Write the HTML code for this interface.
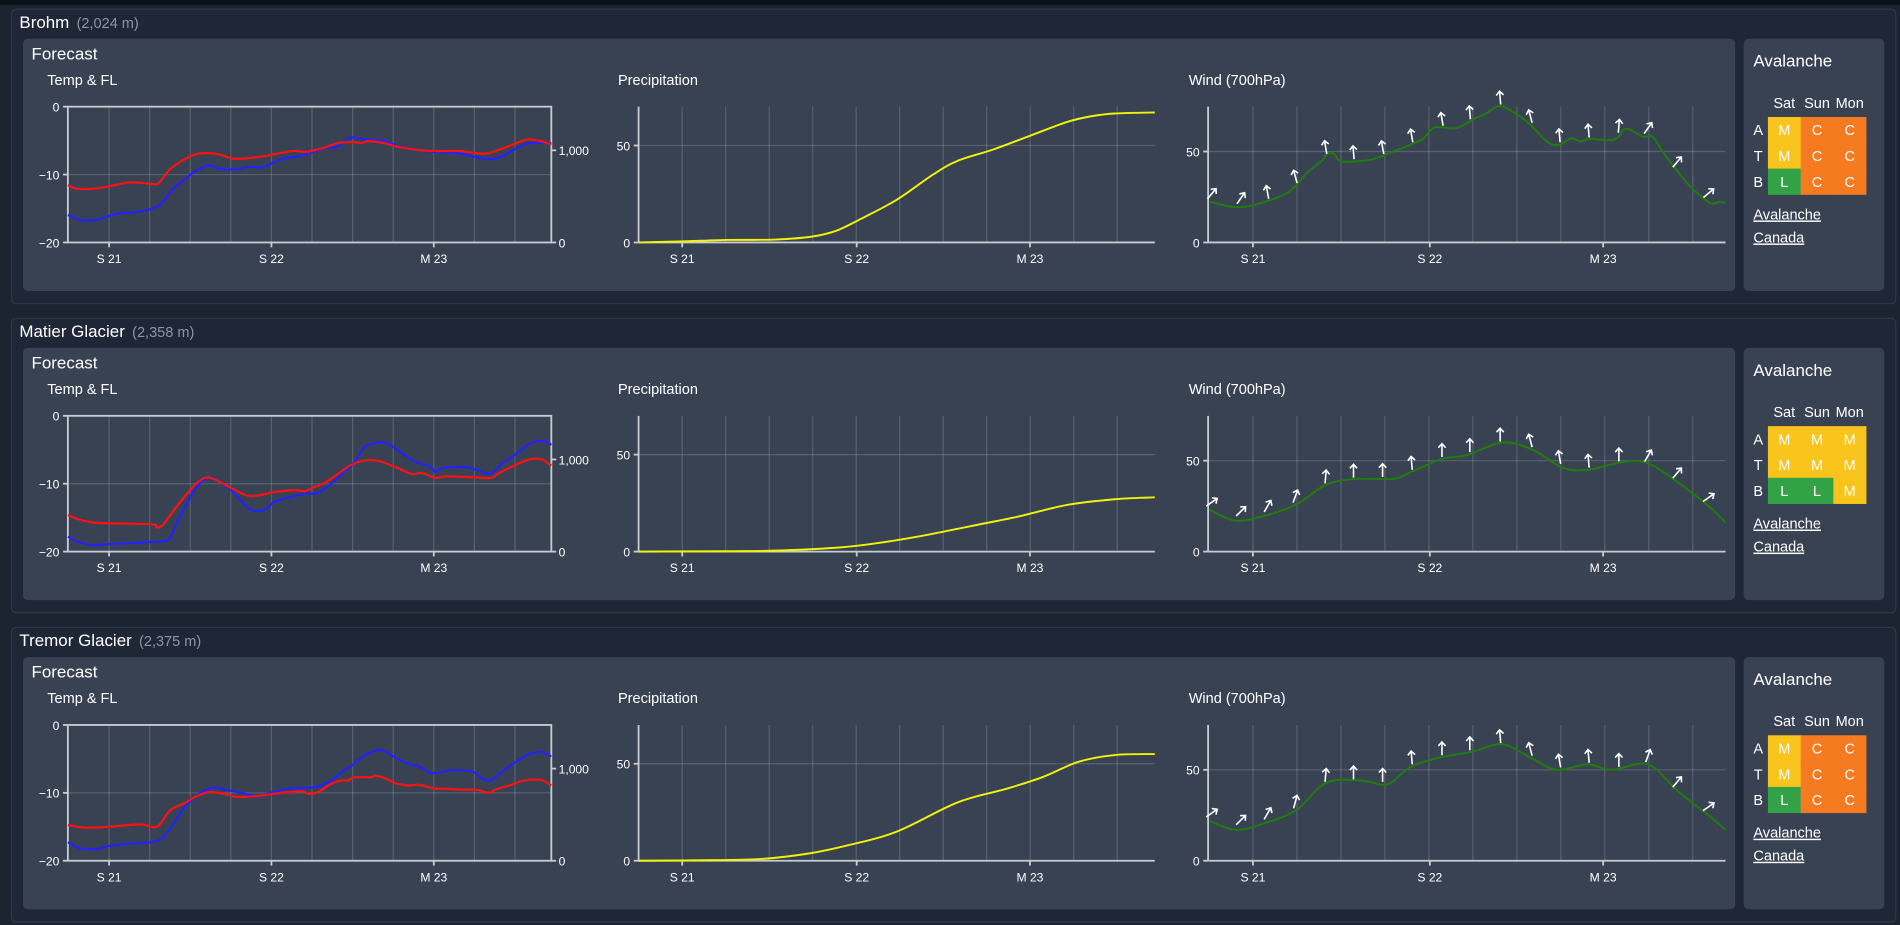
<!DOCTYPE html>
<html><head><meta charset="utf-8"><style>
html,body{margin:0;padding:0;background:#1c2331;overflow:hidden}
svg{display:block}
text{font-family:"Liberation Sans Narrow","Liberation Sans",sans-serif;fill:#fff}
</style></head><body>
<svg id="s" width="1900" height="925" viewBox="0 0 1568 763" preserveAspectRatio="none" xmlns="http://www.w3.org/2000/svg"></svg>
<script>
const svg=document.getElementById('s');let h='';
h+='<rect x="0" y="0" width="1568" height="763" fill="#1c2331"/><rect x="0" y="0" width="1568" height="4" fill="#0c1018"/>';
function sm(pts){let d='M'+pts[0][0].toFixed(1)+','+pts[0][1].toFixed(1);for(let i=0;i<pts.length-1;i++){const p0=pts[i-1]||pts[i],p1=pts[i],p2=pts[i+1],p3=pts[i+2]||p2;const c1=[p1[0]+(p2[0]-p0[0])/6,p1[1]+(p2[1]-p0[1])/6],c2=[p2[0]-(p3[0]-p1[0])/6,p2[1]-(p3[1]-p1[1])/6];d+=' C'+c1[0].toFixed(1)+','+c1[1].toFixed(1)+' '+c2[0].toFixed(1)+','+c2[1].toFixed(1)+' '+p2[0].toFixed(1)+','+p2[1].toFixed(1);}return d;}
function interp(pts,x){for(let i=0;i<pts.length-1;i++){if(x>=pts[i][0]&&x<=pts[i+1][0]){const t=(x-pts[i][0])/(pts[i+1][0]-pts[i][0]);return pts[i][1]+t*(pts[i+1][1]-pts[i][1]);}}return pts[pts.length-1][1];}
const names=[["Brohm","(2,024 m)"],["Matier Glacier","(2,358 m)"],["Tremor Glacier","(2,375 m)"]];
const p1=(a)=>a.map(p=>[(p[0]-178)/1257,-20*(p[1]-318)/410]);
const p23=(a)=>a.map(p=>[(p[0]-25)/1440,-20*(p[1]-17)/411]);
const temps=[
[p1([[178,555],[200,565],[250,565],[300,555],[335,547],[370,548],[400,552],[415,548],[445,505],[480,478],[510,462],[540,458],[570,462],[610,475],[650,473],[700,465],[760,452],[800,454],[850,440],[880,428],[920,425],[940,428],[960,422],[1000,428],[1040,440],[1100,450],[1150,452],[1200,452],[1260,460],[1300,448],[1340,430],[1370,418],[1400,420],[1435,432]]),
 p1([[178,645],[210,660],[250,660],[280,650],[310,640],[350,637],[390,628],[420,612],[450,568],[480,540],[510,512],[545,495],[570,505],[610,507],[650,500],[680,502],[710,488],[740,475],[780,467],[810,457],[840,445],[880,438],[910,412],[930,414],[960,418],[1000,422],[1040,438],[1080,447],[1130,455],[1190,458],[1230,468],[1260,475],[1290,475],[1320,460],[1350,440],[1380,428],[1435,428]])],
[p23([[25,318],[100,340],[270,345],[290,355],[310,345],[350,290],[410,220],[450,205],[520,240],[570,260],[640,248],[700,242],[730,245],[760,232],[790,220],[840,185],[870,165],[910,152],[950,153],[1000,172],[1050,193],[1080,190],[1120,205],[1150,200],[1230,203],[1285,205],[1310,190],[1370,160],[1410,147],[1440,150],[1465,168]]),
 p23([[25,383],[60,400],[100,408],[150,405],[220,402],[280,398],[310,396],[330,385],[360,320],[410,230],[450,205],[490,225],[520,250],[560,295],[590,305],[615,300],[640,278],[700,260],[740,252],[765,252],[800,230],[840,195],[880,155],[910,110],[950,98],[975,100],[1000,115],[1040,145],[1070,160],[1100,168],[1110,175],[1120,188],[1140,175],[1210,172],[1240,180],[1285,192],[1320,160],[1350,140],[1400,102],[1430,93],[1450,95],[1465,105]])],
[p23([[25,320],[80,328],[150,325],[240,318],[290,325],[330,275],[370,255],[410,232],[450,220],[500,228],[530,235],[590,232],[640,225],[720,218],[740,225],[770,220],[810,195],[840,185],[860,185],[880,175],[930,175],[940,170],[970,178],[1000,193],[1040,200],[1070,198],[1120,210],[1150,210],[1200,213],[1240,213],[1280,222],[1300,212],[1340,200],[1380,186],[1410,182],[1440,185],[1465,200]]),
 p23([[25,372],[60,390],[110,392],[150,383],[200,377],[240,375],[290,368],[310,355],[340,315],[370,270],[410,230],[450,208],[490,212],[540,222],[590,232],[630,222],[680,210],[760,205],[810,185],[840,160],[870,140],[900,115],[940,95],[965,95],[1000,115],[1040,135],[1070,142],[1100,160],[1130,162],[1160,155],[1210,155],[1240,163],[1260,180],[1285,185],[1310,165],[1350,135],[1390,110],[1430,98],[1465,112]])]];
const precs=[
[[527,0],[560,0.5],[600,1.3],[640,1.5],[670,3],[690,6],[710,12],[740,22],[770,35],[790,42],[820,48],[850,55],[880,62],[900,65],[920,66.5],[953,67]],
[[527,0],[600,0.2],[640,0.5],[690,2],[720,4],[760,8],[800,13],[840,18],[880,24],[920,27],[953,28]],
[[527,0],[590,0.3],[630,1],[670,4],[700,8],[740,15],[790,30],[830,37],[860,43],[890,51],[920,54.5],[953,55]]];
const w1=[[125,515],[170,530],[200,530],[240,515],[290,485],[330,425],[360,390],[370,370],[385,370],[400,393],[450,390],[480,380],[510,362],[540,345],[570,325],[595,290],[640,292],[680,262],[700,250],[730,225],[760,245],[790,275],[820,320],[840,342],[860,340],[880,323],[900,332],[920,325],[970,327],[990,296],[1005,298],[1030,318],[1050,318],[1070,360],[1100,418],[1130,470],[1170,518],[1190,515],[1203,518]].map(p=>[(p[0]/2.09+1150)/1.2117,(638-p[1])/5.5]);
const winds=[w1,
[[998,23],[1020,17],[1045,20],[1070,26],[1095,37],[1120,40],[1150,40],[1165,44],[1190,51],[1210,53],[1240,60],[1265,56],[1290,46],[1310,45],[1330,48],[1350,50],[1365,47],[1385,38],[1410,25],[1424,16]],
[[998,22],[1020,17],[1045,21],[1070,28],[1095,43],[1125,44],[1145,42],[1165,52],[1190,57],[1215,60],[1240,64],[1265,56],[1285,50],[1310,53],[1330,50],[1360,53],[1385,38],[1410,25],[1424,17]]];
const ax=[1000,1024,1046,1069,1094,1117,1141,1165,1190,1213,1238,1263,1287,1311,1336,1360,1384,1410];
const angs=[[40,35,-10,-15,-10,-5,-10,-10,-10,-5,-5,-15,-5,-5,5,35,40,50],[55,45,30,20,5,0,0,-5,0,0,0,-15,-10,-5,0,30,40,55],[55,45,30,15,5,0,0,-5,0,0,-5,-15,-10,-5,0,20,40,55]];
const aval=[[["M","C","C"],["M","C","C"],["L","C","C"]],[["M","M","M"],["M","M","M"],["L","L","M"]],[["M","C","C"],["M","C","C"],["L","C","C"]]];
const col={M:"#f9c41b",C:"#f57a20",L:"#33a145"};
const G='stroke="rgba(255,255,255,0.16)" stroke-width="1"',A='stroke="#c8ccd2" stroke-width="1.5"';
for(let i=0;i<3;i++){const y0=7+i*255,T=y0+81,B=y0+193;
h+=`<rect x="9.5" y="${y0+.5}" width="1555" height="243" rx="4" fill="#1f2737" stroke="#2f3848"/>`;
h+=`<text x="16" y="${y0+16}" font-size="14">${names[i][0]}<tspan dx="6" font-size="12" style="fill:#8d95a3">${names[i][1]}</tspan></text>`;
h+=`<rect x="19" y="${y0+25}" width="1413" height="208" rx="4" fill="#394253"/><rect x="1439" y="${y0+25}" width="116" height="208" rx="4" fill="#394253"/>`;
h+=`<text x="26" y="${y0+42}" font-size="14">Forecast</text>`;
h+=`<text x="39" y="${y0+63}" font-size="12">Temp &amp; FL</text><text x="510" y="${y0+63}" font-size="12">Precipitation</text><text x="981" y="${y0+63}" font-size="12">Wind (700hPa)</text>`;
for(let k=0;k<11;k++){const x=90+k*33.5;h+=`<line x1="${x}" y1="${T}" x2="${x}" y2="${B}" ${G}/>`;}
h+=`<line x1="56" y1="${T+56}" x2="455" y2="${T+56}" ${G}/>`;
h+=`<rect x="56" y="${T}" width="399" height="112" fill="none" ${A}/>`;
[[0,0],[-10,56],[-20,112]].forEach(([v,dy])=>{h+=`<line x1="52" y1="${T+dy}" x2="56" y2="${T+dy}" ${A}/><text x="49" y="${T+dy+4}" font-size="10" text-anchor="end">${v<0?'−'+(-v):v}</text>`;});
h+=`<line x1="455" y1="${T+36}" x2="459" y2="${T+36}" ${A}/><text x="461" y="${T+40}" font-size="10">1,000</text><line x1="455" y1="${B}" x2="459" y2="${B}" ${A}/><text x="461" y="${B+4}" font-size="10">0</text>`;
[["S 21",90],["S 22",224],["M 23",358]].forEach(([t,x])=>{h+=`<line x1="${x}" y1="${B}" x2="${x}" y2="${B+4}" ${A}/><text x="${x}" y="${B+17}" font-size="10" text-anchor="middle">${t}</text>`;});
const tp=d=>d.map(p=>[56+p[0]*399,T-p[1]/20*112]);
h+=`<path d="${sm(tp(temps[i][1]))}" fill="none" stroke="#2222ff" stroke-width="1.8"/>`;
h+=`<path d="${sm(tp(temps[i][0]))}" fill="none" stroke="#ff1111" stroke-width="1.8"/>`;
for(let k=0;k<11;k++){const x=563+k*35.9;h+=`<line x1="${x}" y1="${T}" x2="${x}" y2="${B}" ${G}/>`;}
h+=`<line x1="527" y1="${B-80}" x2="953" y2="${B-80}" ${G}/>`;
h+=`<line x1="527" y1="${T}" x2="527" y2="${B}" ${A}/><line x1="527" y1="${B}" x2="953" y2="${B}" ${A}/>`;
h+=`<line x1="523" y1="${B-80}" x2="527" y2="${B-80}" ${A}/><text x="520" y="${B-76}" font-size="10" text-anchor="end">50</text><line x1="523" y1="${B}" x2="527" y2="${B}" ${A}/><text x="520" y="${B+4}" font-size="10" text-anchor="end">0</text>`;
[["S 21",563],["S 22",707],["M 23",850]].forEach(([t,x])=>{h+=`<line x1="${x}" y1="${B}" x2="${x}" y2="${B+4}" ${A}/><text x="${x}" y="${B+17}" font-size="10" text-anchor="middle">${t}</text>`;});
h+=`<path d="${sm(precs[i].map(p=>[p[0],B-p[1]*1.6]))}" fill="none" stroke="#f2f20a" stroke-width="1.6"/>`;
for(let k=0;k<11;k++){const x=1034+k*36.3;h+=`<line x1="${x}" y1="${T}" x2="${x}" y2="${B}" ${G}/>`;}
h+=`<line x1="997" y1="${B-75}" x2="1424" y2="${B-75}" ${G}/>`;
h+=`<line x1="997" y1="${T}" x2="997" y2="${B}" ${A}/><line x1="997" y1="${B}" x2="1424" y2="${B}" ${A}/>`;
h+=`<line x1="993" y1="${B-75}" x2="997" y2="${B-75}" ${A}/><text x="990" y="${B-71}" font-size="10" text-anchor="end">50</text><line x1="993" y1="${B}" x2="997" y2="${B}" ${A}/><text x="990" y="${B+4}" font-size="10" text-anchor="end">0</text>`;
[["S 21",1034],["S 22",1180],["M 23",1323]].forEach(([t,x])=>{h+=`<line x1="${x}" y1="${B}" x2="${x}" y2="${B+4}" ${A}/><text x="${x}" y="${B+17}" font-size="10" text-anchor="middle">${t}</text>`;});
const wp=winds[i].map(p=>[p[0],B-p[1]*1.5]);
h+=`<path d="${sm(wp)}" fill="none" stroke="#1f7d0a" stroke-width="1.6"/>`;
ax.forEach((x,k)=>{const y=interp(wp,x)-7;h+=`<path transform="translate(${x.toFixed(1)},${y.toFixed(1)}) rotate(${angs[i][k]})" d="M0,5.5 L0,-5.5 M-3,-2.2 L0,-5.5 L3,-2.2" fill="none" stroke="#fff" stroke-width="1.3"/>`;});
h+=`<text x="1447" y="${y0+48}" font-size="14">Avalanche</text>`;
["Sat","Sun","Mon"].forEach((t,k)=>{h+=`<text x="${1472.5+k*27}" y="${y0+82}" font-size="12" text-anchor="middle">${t}</text>`;});
["A","T","B"].forEach((t,r)=>{const ry=y0+89.5+r*21.3;h+=`<text x="1451" y="${ry+15}" font-size="12" text-anchor="middle">${t}</text>`;
aval[i][r].forEach((c,k)=>{const cx=1459+k*27;h+=`<rect x="${cx}" y="${ry}" width="27.3" height="21.6" fill="${col[c]}"/><text x="${cx+13.5}" y="${ry+15}" font-size="12" text-anchor="middle">${c}</text>`;});});
h+=`<text x="1447" y="${y0+174}" font-size="12" style="text-decoration:underline">Avalanche</text>`;
h+=`<text x="1447" y="${y0+193}" font-size="12" style="text-decoration:underline">Canada</text>`;
}
svg.innerHTML=h;
</script>
</body></html>
